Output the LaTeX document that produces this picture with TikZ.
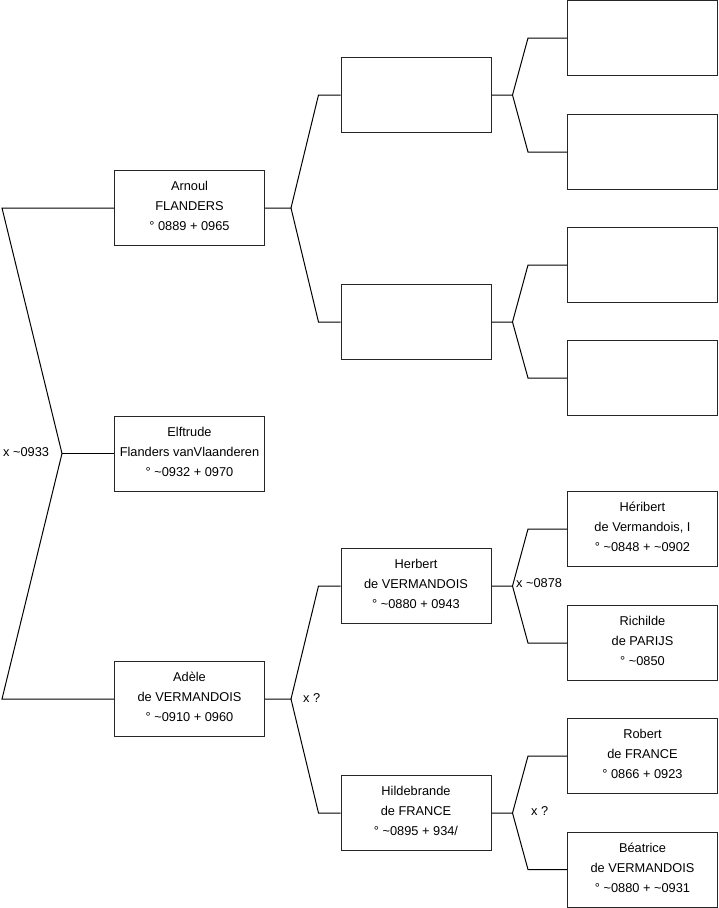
\documentclass[tikz,border=0pt]{standalone}
\usepackage{fontspec}
\setmainfont{Liberation Sans}
\begin{document}
\begin{tikzpicture}[x=1pt,y=-1pt,
  person/.style={draw=black!85, line width=1pt, minimum width=150pt, minimum height=75pt, inner sep=0pt,
    align=center, font=\fontsize{12.8}{20}\selectfont, fill=white,
    execute at end node={\rule[-4pt]{0pt}{4pt}}},
  link/.style={draw=black, line width=1pt},
  lbl/.style={anchor=west, inner sep=0pt, font=\fontsize{12.8}{14}\selectfont}]
\useasboundingbox (0,0) rectangle (719,908);
% level 1
\node[person] (arnoul) at (189.5,208) {Arnoul\\FLANDERS\\° 0889 + 0965};
\node[person] (elftrude) at (189.5,453.5) {Elftrude\\Flanders vanVlaanderen\\° \textasciitilde0932 + 0970};
\node[person] (adele) at (189.5,699) {Adèle\\de VERMANDOIS\\° \textasciitilde0910 + 0960};
% level 2
\node[person] (e1) at (416,95) {};
\node[person] (e2) at (416,322) {};
\node[person] (herbert) at (416,586) {Herbert\\de VERMANDOIS\\° \textasciitilde0880 + 0943};
\node[person] (hild) at (416,813) {Hildebrande\\de FRANCE\\° \textasciitilde0895 + 934/};
% level 3
\node[person] (b1) at (642.5,38) {};
\node[person] (b2) at (642.5,152) {};
\node[person] (b3) at (642.5,265) {};
\node[person] (b4) at (642.5,378) {};
\node[person] (heribert) at (642.5,529) {Héribert\\de Vermandois, I\\° \textasciitilde0848 + \textasciitilde0902};
\node[person] (richilde) at (642.5,643) {Richilde\\de PARIJS\\° \textasciitilde0850};
\node[person] (robert) at (642.5,756) {Robert\\de FRANCE\\° 0866 + 0923};
\node[person] (beatrice) at (642.5,869.5) {Béatrice\\de VERMANDOIS\\° \textasciitilde0880 + \textasciitilde0931};
% trunk
\coordinate (f0) at (62,453.5);
\draw[link] (elftrude.west) -- (f0);
\draw[link] (f0) -- ([xshift=-112]arnoul.west) -- (arnoul.west);
\draw[link] (f0) -- ([xshift=-112]adele.west) -- (adele.west);
\node[lbl] (m0) at (3,452) {x \textasciitilde0933};
% level 1 -> 2
\draw[link] (arnoul.east) -- ++(26,0) coordinate (fa) -- ([xshift=-22]e1.west) -- (e1.west);
\draw[link] (fa) -- ([xshift=-22]e2.west) -- (e2.west);
\draw[link] (adele.east) -- ++(26,0) coordinate (fd) -- ([xshift=-22]herbert.west) -- (herbert.west);
\draw[link] (fd) -- ([xshift=-22]hild.west) -- (hild.west);
\node[lbl] (m1) at (303,698) {x ?};
% level 2 -> 3
\draw[link] (e1.east) -- ++(21,0) coordinate (f1) -- ([xshift=-39]b1.west) -- (b1.west);
\draw[link] (f1) -- ([xshift=-39]b2.west) -- (b2.west);
\draw[link] (e2.east) -- ++(21,0) coordinate (f2) -- ([xshift=-39]b3.west) -- (b3.west);
\draw[link] (f2) -- ([xshift=-39]b4.west) -- (b4.west);
\draw[link] (herbert.east) -- ++(21,0) coordinate (f3) -- ([xshift=-39]heribert.west) -- (heribert.west);
\draw[link] (f3) -- ([xshift=-39]richilde.west) -- (richilde.west);
\draw[link] (hild.east) -- ++(21,0) coordinate (f4) -- ([xshift=-39]robert.west) -- (robert.west);
\draw[link] (f4) -- ([xshift=-39]beatrice.west) -- (beatrice.west);
\node[lbl] (m2) at (516,583) {x \textasciitilde0878};
\node[lbl] (m3) at (531,811) {x ?};
\end{tikzpicture}
\end{document}
